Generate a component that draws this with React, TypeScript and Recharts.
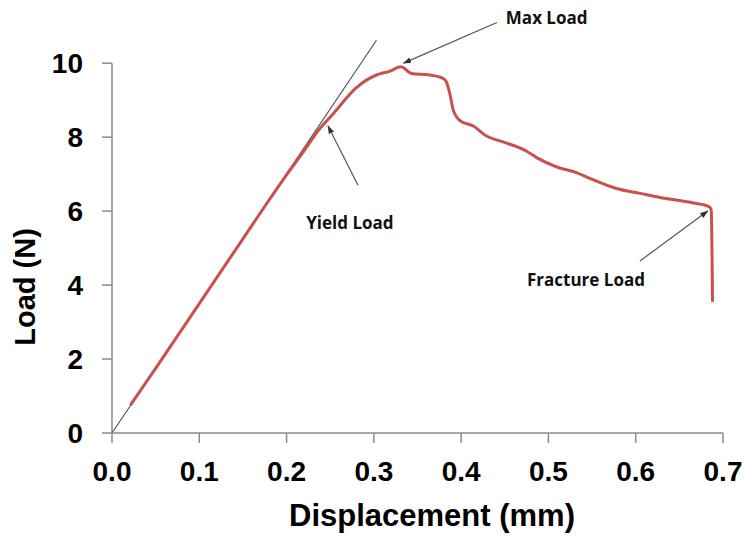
import React from 'react';
import { LineChart, Line, XAxis, YAxis, ReferenceLine, ReferenceDot } from 'recharts';

// displacement (mm) and load (N)
const DISPLACEMENT = [
  0.021, 0.05, 0.1, 0.15, 0.18, 0.2, 0.22, 0.237, 0.253, 0.28, 0.303, 0.318, 0.331,
  0.343, 0.364, 0.379, 0.383, 0.387, 0.391, 0.399, 0.414, 0.429, 0.448, 0.475, 0.487,
  0.509, 0.532, 0.548, 0.578, 0.605, 0.635, 0.666, 0.684, 0.6865, 0.688,
];
const LOAD = [
  0.75, 1.75, 3.5, 5.25, 6.3, 6.98, 7.63, 8.2, 8.62, 9.34, 9.68, 9.78, 9.9,
  9.72, 9.68, 9.59, 9.5, 9.18, 8.73, 8.44, 8.3, 8.03, 7.87, 7.62, 7.44,
  7.2, 7.04, 6.88, 6.61, 6.48, 6.34, 6.22, 6.12, 6.03, 3.55,
];

// elastic tangent line
const TANGENT_X = [0, 0.303];
const TANGENT_Y = [0, 10.62];

const X_TICKS = [0, 0.1, 0.2, 0.3, 0.4, 0.5, 0.6, 0.7];
const Y_TICKS = [0, 2, 4, 6, 8, 10];

const ANNOTATIONS = [
  { text: 'Max Load', tx: 0.498, ty: 11.24, from: [0.441, 11.1], to: [0.334, 10.0] },
  { text: 'Yield Load', tx: 0.2726, ty: 5.68, from: [0.2818, 6.7], to: [0.2475, 8.3] },
  { text: 'Fracture Load', tx: 0.543, ty: 4.16, from: [0.6048, 4.65], to: [0.6825, 6.0] },
];

const curve = DISPLACEMENT.map((x, i) => ({ x, y: LOAD[i] }));
const tangent = TANGENT_X.map((x, i) => ({ x, y: TANGENT_Y[i] }));

const AXIS = '#8a8a8a';
const FONT = '"Liberation Sans", Arial, sans-serif';
const NOTE_FONT = '"Open Sans", "Noto Sans", sans-serif';

export default function App() {
  return (
    <div style={{ position: 'absolute', left: 0, top: 0, background: '#fff' }}>
      <LineChart width={747} height={536} margin={{ top: 4, right: 24, bottom: 0, left: 0 }}>
        <defs>
          <marker id="arrow" viewBox="0 0 10 10" refX="9" refY="5" markerWidth="7" markerHeight="7" orient="auto-start-reverse">
            <path d="M0,1.5 L10,5 L0,8.5 z" fill="#333" />
          </marker>
        </defs>
        <XAxis
          dataKey="x"
          type="number"
          domain={[0, 0.7]}
          ticks={X_TICKS}
          tickFormatter={(v: number) => v.toFixed(1)}
          height={103}
          stroke={AXIS}
          strokeWidth={1.5}
          tickSize={10}
          tickMargin={18}
          tick={{ fill: '#000', fontSize: 28, fontWeight: 'bold', fontFamily: FONT }}
          label={{
            content: ({ viewBox }: any) => (
              <text x={432} y={viewBox.y + 93} textAnchor="middle" fill="#000" fontSize={31} fontWeight="bold" fontFamily={FONT}>
                Displacement (mm)
              </text>
            ),
          }}
        />
        <YAxis
          type="number"
          domain={[0, 11.6]}
          ticks={Y_TICKS}
          width={112}
          axisLine={false}
          tickLine={{ stroke: AXIS, strokeWidth: 1.5 }}
          tickSize={10}
          tickMargin={19}
          tick={{ fill: '#000', fontSize: 28, fontWeight: 'bold', fontFamily: FONT }}
          label={{
            content: () => (
              <text x={25} y={287} transform="rotate(-90, 25, 287)" textAnchor="middle" dominantBaseline="central" fill="#000" fontSize={29} fontWeight="bold" fontFamily={FONT}>
                Load (N)
              </text>
            ),
          }}
        />
        <ReferenceLine segment={[{ x: 0, y: 0 }, { x: 0, y: 10 }]} stroke={AXIS} strokeWidth={1.5} />
        <Line
          data={tangent}
          dataKey="y"
          type="linear"
          stroke="#555"
          strokeWidth={1.2}
          dot={false}
          isAnimationActive={false}
        />
        <Line
          data={curve}
          dataKey="y"
          type="monotone"
          stroke="#c9504d"
          strokeWidth={3}
          dot={false}
          isAnimationActive={false}
        />
        {ANNOTATIONS.map((a) => (
          <ReferenceLine
            key={a.text + '-arrow'}
            segment={[{ x: a.from[0], y: a.from[1] }, { x: a.to[0], y: a.to[1] }]}
            ifOverflow="visible"
            shape={(p: any) => (
              <line x1={p.x1} y1={p.y1} x2={p.x2} y2={p.y2} stroke="#555" strokeWidth={1.2} markerEnd="url(#arrow)" />
            )}
          />
        ))}
        {ANNOTATIONS.map((a) => (
          <ReferenceDot
            key={a.text}
            x={a.tx}
            y={a.ty}
            ifOverflow="visible"
            shape={(p: any) => (
              <text x={p.cx} y={p.cy} textAnchor="middle" dominantBaseline="central" fontSize={17} fontWeight="bold" fontFamily={NOTE_FONT} fill="#111">
                {a.text}
              </text>
            )}
          />
        ))}
      </LineChart>
    </div>
  );
}
